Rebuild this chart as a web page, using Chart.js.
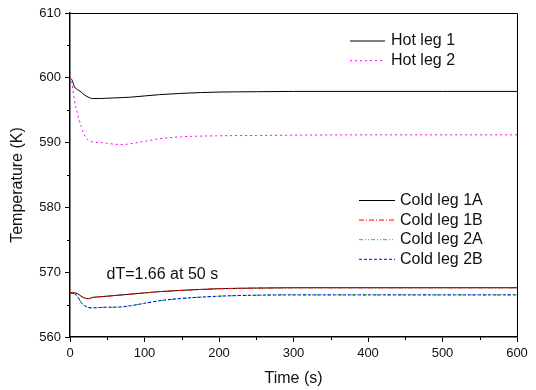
<!DOCTYPE html>
<html>
<head>
<meta charset="utf-8">
<script src="https://cdn.jsdelivr.net/npm/chart.js@4"></script>
<style>
  html, body { margin: 0; padding: 0; background: #fff; }
  #wrap { width: 536px; height: 390px; }
</style>
</head>
<body>
<div id="wrap"><canvas id="tempChart" width="536" height="390"></canvas></div>
<script>
// time points (s)
const time = [0, 3, 6, 10, 15, 20, 25, 30, 40, 50, 60, 70, 80, 100, 120, 150, 200, 250, 300, 400, 500, 600];

// temperatures (K)
const hotLeg1 = [600.0, 599.6, 598.6, 598.2, 597.8, 597.3, 597.0, 596.8, 596.8, 596.85, 596.9, 596.95, 597.0, 597.2, 597.4, 597.6, 597.8, 597.85, 597.9, 597.9, 597.9, 597.9];
const hotLeg2 = [600.2, 599.0, 596.5, 594.5, 592.5, 591.0, 590.3, 590.1, 590.0, 589.9, 589.75, 589.7, 589.8, 590.2, 590.6, 590.9, 591.05, 591.1, 591.15, 591.2, 591.2, 591.2];
const coldLeg1A = [566.85, 566.8, 566.8, 566.7, 566.3, 566.0, 565.9, 566.1, 566.2, 566.3, 566.4, 566.5, 566.6, 566.8, 567.0, 567.2, 567.45, 567.55, 567.6, 567.6, 567.6, 567.6];
const coldLeg1B = [566.85, 566.8, 566.8, 566.7, 566.3, 566.0, 565.9, 566.1, 566.2, 566.3, 566.4, 566.5, 566.6, 566.8, 567.0, 567.2, 567.45, 567.55, 567.6, 567.6, 567.6, 567.6];
const coldLeg2A = [566.85, 566.8, 566.7, 566.3, 565.3, 564.8, 564.55, 564.5, 564.55, 564.6, 564.6, 564.65, 564.8, 565.2, 565.6, 565.95, 566.3, 566.45, 566.5, 566.5, 566.5, 566.5];
const coldLeg2B = [566.85, 566.8, 566.7, 566.3, 565.3, 564.8, 564.55, 564.5, 564.55, 564.6, 564.6, 564.65, 564.8, 565.2, 565.6, 565.95, 566.3, 566.45, 566.5, 566.5, 566.5, 566.5];

const hotLabels = ['Hot leg 1', 'Hot leg 2'];
const coldLabels = ['Cold leg 1A', 'Cold leg 1B', 'Cold leg 2A', 'Cold leg 2B'];
const note = 'dT=1.66 at 50 s';
const yTitle = 'Temperature (K)';

const xTicks = [0, 100, 200, 300, 400, 500, 600];
const yTicks = [560, 570, 580, 590, 600, 610];

const FONT = 'Arial, "Liberation Sans", sans-serif';

function pts(arr) {
  return time.map((t, i) => ({ x: t, y: arr[i] }));
}

const styles = {
  hot1:  { color: '#000000', dash: [] },
  hot2:  { color: '#ff00ff', dash: [2, 3] },
  c1A:   { color: '#000000', dash: [] },
  c1B:   { color: '#ff0000', dash: [5, 2, 1, 2] },
  c2A:   { color: '#00dd00', dash: [4, 2, 1, 2, 1, 2] },
  c2B:   { color: '#0000ff', dash: [3, 2] }
};

function ds(label, arr, st, order) {
  return {
    label: label,
    data: pts(arr),
    borderColor: st.color,
    borderDash: st.dash,
    borderWidth: 1,
    pointRadius: 0,
    fill: false,
    cubicInterpolationMode: 'monotone',
    order: order
  };
}

// frame, minor ticks, legends, note, y title
const extras = {
  id: 'extras',
  afterDraw(chart) {
    const c = chart.ctx;
    const a = chart.chartArea;
    const xs = chart.scales.x, ys = chart.scales.y;
    c.save();
    c.strokeStyle = '#000';
    c.lineWidth = 1;
    c.beginPath();
    c.moveTo(a.left, a.top + 0.5);
    c.lineTo(a.right + 0.5, a.top + 0.5);
    c.lineTo(a.right + 0.5, a.bottom);
    c.stroke();
    // minor ticks
    c.beginPath();
    for (let v = 50; v < 600; v += 100) {
      const px = Math.round(xs.getPixelForValue(v)) + 0.5;
      c.moveTo(px, a.bottom);
      c.lineTo(px, a.bottom + 3);
    }
    for (let v = 565; v < 610; v += 10) {
      const py = Math.round(ys.getPixelForValue(v)) + 0.5;
      c.moveTo(a.left, py);
      c.lineTo(a.left - 3, py);
    }
    c.stroke();

    c.font = '16px ' + FONT;
    c.fillStyle = '#111';
    c.textBaseline = 'middle';
    c.textAlign = 'left';

    const hotSt = [styles.hot1, styles.hot2];
    hotLabels.forEach((lab, i) => {
      const y = a.top + 28 + i * 19.7;
      c.strokeStyle = hotSt[i].color;
      c.setLineDash(hotSt[i].dash);
      c.beginPath();
      c.moveTo(a.left + 280, y);
      c.lineTo(a.left + 315, y);
      c.stroke();
      c.fillText(lab, a.left + 321, y);
    });

    const coldSt = [styles.c1A, styles.c1B, styles.c2A, styles.c2B];
    coldLabels.forEach((lab, i) => {
      const y = a.top + 187.5 + i * 19.6;
      c.strokeStyle = coldSt[i].color;
      c.setLineDash(coldSt[i].dash);
      c.beginPath();
      c.moveTo(a.left + 289, y);
      c.lineTo(a.left + 325, y);
      c.stroke();
      c.fillText(lab, a.left + 330, y);
    });
    c.setLineDash([]);

    c.fillText(note, a.left + 36.5, a.top + 262);

    c.translate(18, 185);
    c.rotate(-Math.PI / 2);
    c.textAlign = 'center';
    c.fillText(yTitle, 0, 0);
    c.restore();
  }
};

new Chart(document.getElementById('tempChart'), {
  type: 'line',
  data: {
    datasets: [
      ds(hotLabels[0], hotLeg1, styles.hot1, 1),
      ds(hotLabels[1], hotLeg2, styles.hot2, 0),
      ds(coldLabels[0], coldLeg1A, styles.c1A, 3),
      ds(coldLabels[1], coldLeg1B, styles.c1B, 2),
      ds(coldLabels[2], coldLeg2A, styles.c2A, 5),
      ds(coldLabels[3], coldLeg2B, styles.c2B, 4)
    ]
  },
  options: {
    responsive: false,
    animation: false,
    layout: { padding: { top: 13, right: 19, left: 0, bottom: 0 } },
    plugins: {
      legend: { display: false },
      tooltip: { enabled: false }
    },
    scales: {
      x: {
        type: 'linear',
        min: 0,
        max: 600,
        afterBuildTicks: (s) => { s.ticks = xTicks.map(v => ({ value: v })); },
        afterFit: (s) => { s.height = 53; },
        grid: { drawOnChartArea: false, drawTicks: true, tickLength: 5, color: '#000' },
        border: { display: true, color: '#000', width: 1.5 },
        ticks: { color: '#111', font: { family: FONT, size: 13 }, padding: 4, maxRotation: 0 },
        title: { display: true, text: 'Time (s)', color: '#111', font: { family: FONT, size: 16 }, padding: { top: 0, bottom: 2 } }
      },
      y: {
        type: 'linear',
        min: 560,
        max: 610,
        afterBuildTicks: (s) => { s.ticks = yTicks.map(v => ({ value: v })); },
        afterFit: (s) => { s.width = 70; },
        grid: { drawOnChartArea: false, drawTicks: true, tickLength: 5, color: '#000' },
        border: { display: true, color: '#000', width: 1.5 },
        ticks: { color: '#111', font: { family: FONT, size: 13 }, padding: 4 },
        title: { display: false }
      }
    }
  },
  plugins: [extras]
});
</script>
</body>
</html>
